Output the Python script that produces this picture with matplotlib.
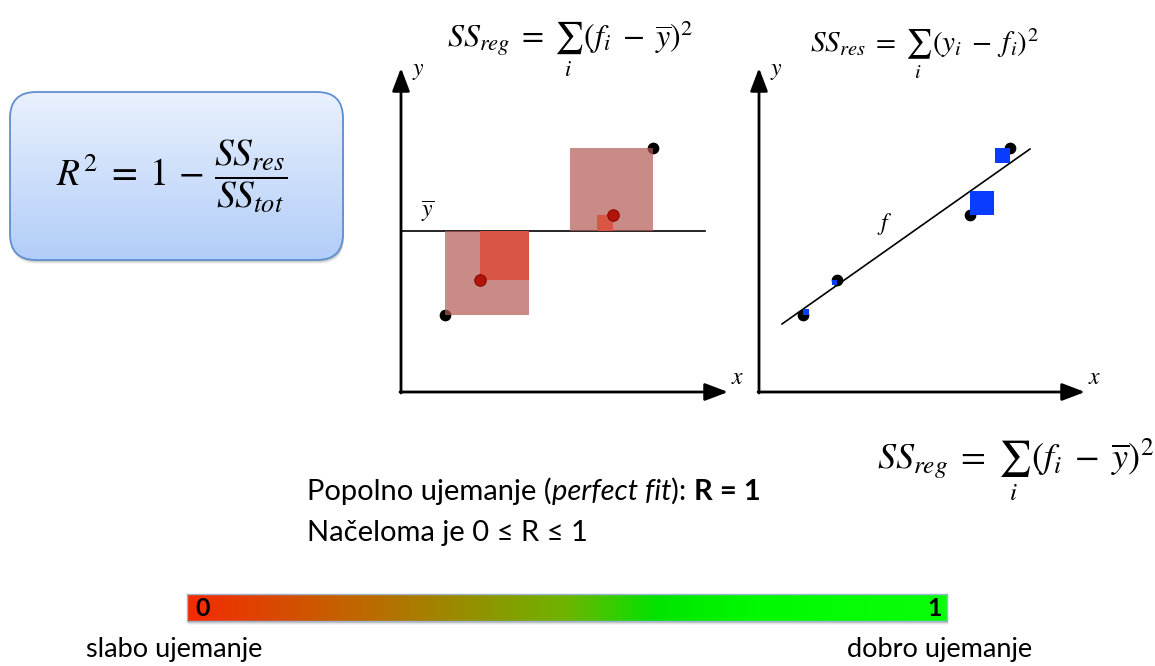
"""R^2 diagram: SS_reg / SS_res panels, formula box and colour scale."""

import numpy as np
import matplotlib

matplotlib.use("Agg")
import matplotlib.pyplot as plt
from matplotlib.colors import LinearSegmentedColormap
from matplotlib.patches import FancyBboxPatch, Rectangle
from matplotlib.offsetbox import TextArea, HPacker, AnnotationBbox

W, H = 1155, 666
plt.rcParams["mathtext.fontset"] = "stix"
SANS = ["Lato", "DejaVu Sans"]

# --- left panel (SS_reg): observed points, fitted points, mean ---
reg_x_obs = [4.4, 25.2]
reg_y_obs = [7.7, 24.4]
reg_x_fit = [7.9, 21.2]
reg_y_fit = [11.2, 17.7]
y_mean = 16.1

# --- right panel (SS_res): observed points, fitted values, fit line ---
res_x = [4.4, 7.8, 21.1, 25.1]
res_y = [7.7, 11.2, 17.7, 24.4]
res_f = [8.3, 10.7, 20.1, 22.9]
line_x = [2.3, 27.1]
line_y = [6.8, 24.3]

# --- colour scale 0..1 ---
bar_stops = [0.0, 0.25, 0.5, 0.62, 0.75, 1.0]
bar_colors = ["#f52a00", "#b96e00", "#6eb400", "#00e400", "#00fa00", "#0aff0a"]
bar_labels = ["slabo ujemanje", "dobro ujemanje"]

BOX_TOP = "#e9f1fd"
BOX_BOTTOM = "#b2cdf8"
BOX_EDGE = "#5f8fcf"
SQ_BIG = "#b35a52"
SQ_SMALL = "#da5344"
DOT_RED = "#b3140a"
SQ_BLUE = "#0a3cff"

SS_REG = r"$SS_{reg}\;=\;\sum_{i}\,(f_i\;-\;\overline{y})^2$"
SS_RES = r"$SS_{res}\;=\;\sum_{i}\,(y_i\;-\;f_i)^2$"
R2 = r"$R^{2}\;=\;1\,-\,\dfrac{SS_{res}}{SS_{tot}}$"

fig = plt.figure(figsize=(W / 100, H / 100), dpi=100)


def px_axes(x0, y0, x1, y1):
    # axes placed by pixel box (y measured from the top)
    return fig.add_axes([x0 / W, 1 - y1 / H, (x1 - x0) / W, (y1 - y0) / H])


# background layer in pixel coordinates for decoration and text
bg = fig.add_axes([0, 0, 1, 1])
bg.axis("off")

# formula box with soft shadow and vertical gradient
for k, a in enumerate([0.10, 0.07, 0.04]):
    bg.add_patch(FancyBboxPatch((11, 94 + k), 333, 168,
                                boxstyle="round,pad=0,rounding_size=26",
                                fc="black", ec="none", alpha=a))
box = FancyBboxPatch((10, 92), 333, 168, boxstyle="round,pad=0,rounding_size=26",
                     fc="none", ec=BOX_EDGE, lw=1.3, zorder=3)
bg.add_patch(box)
box_cmap = LinearSegmentedColormap.from_list("box", [BOX_TOP, BOX_BOTTOM])
img = bg.imshow(np.linspace(0, 1, 256).reshape(-1, 1), cmap=box_cmap,
                extent=(10, 343, 260, 92), aspect="auto", zorder=2)
img.set_clip_path(box)
bg.text(172, 176, R2, fontsize=27, ha="center", va="center", zorder=4)

# formulas
bg.text(570, 47, SS_REG, fontsize=23, ha="center", va="baseline")
bg.text(924, 52, SS_RES, fontsize=21, ha="center", va="baseline")
bg.text(1016, 468, SS_REG, fontsize=26, ha="center", va="baseline")


# text lines with mixed styles
def piece(s, **kw):
    return TextArea(s, textprops=dict(fontsize=21, family=SANS, **kw))


line1 = HPacker(children=[piece("Popolno ujemanje ("),
                          piece("perfect fit", style="italic"),
                          piece("): "),
                          piece("R = 1", weight="bold")],
                pad=0, sep=0, align="baseline")
bg.add_artist(AnnotationBbox(line1, (307, 491), box_alignment=(0, 0.5),
                             frameon=False, pad=0))
bg.text(307, 533, "Načeloma je 0 ≤ R ≤ 1", fontsize=21, family=SANS,
        ha="left", va="center")

# colour bar shadow and labels
for k, a in enumerate([0.12, 0.07, 0.04]):
    bg.add_patch(Rectangle((188, 596 + k), 760, 27, fc="black", ec="none", alpha=a))
bg.text(174, 650, bar_labels[0], fontsize=19.5, family=SANS, ha="center", va="center")
bg.text(940, 650, bar_labels[1], fontsize=19.5, family=SANS, ha="center", va="center")

bg.set_xlim(0, W)
bg.set_ylim(H, 0)

# gradient bar
ax_bar = px_axes(187, 594, 947, 621)
bar_cmap = LinearSegmentedColormap.from_list("fit", list(zip(bar_stops, bar_colors)))
ax_bar.imshow(np.linspace(0, 1, 512).reshape(1, -1), cmap=bar_cmap,
              aspect="auto", extent=(0, 1, 0, 1))
ax_bar.set_xticks([])
ax_bar.set_yticks([])
for sp in ax_bar.spines.values():
    sp.set_color("#9db3cf")
    sp.set_linewidth(1.0)
ax_bar.text(0.011, 0.47, "0", transform=ax_bar.transAxes, fontsize=18,
            weight="bold", family=SANS, ha="left", va="center")
ax_bar.text(0.993, 0.47, "1", transform=ax_bar.transAxes, fontsize=18,
            weight="bold", family=SANS, ha="right", va="center")

ARROW = dict(arrowstyle="-|>,head_length=1.0,head_width=0.38", color="black",
             lw=2, mutation_scale=14, shrinkA=0, shrinkB=0)


def draw_frame(ax, xmax, ymax):
    ax.set_xlim(0, xmax)
    ax.set_ylim(0, ymax)
    ax.axis("off")
    ax.annotate("", xy=(xmax, 0), xytext=(-0.1, 0), arrowprops=ARROW,
                annotation_clip=False)
    ax.annotate("", xy=(0, ymax), xytext=(0, -0.1), arrowprops=ARROW,
                annotation_clip=False)
    ax.text(1.1, ymax - 0.2, "$y$", fontsize=17, ha="left", va="center")
    ax.text(xmax + 0.3, 1.5, "$x$", fontsize=17, ha="left", va="center")


# left panel: SS_reg squares around the mean
ax_l = px_axes(401, 68, 728, 392)
draw_frame(ax_l, 32.7, 32.4)
ax_l.plot([0, 30.4], [y_mean, y_mean], color="black", lw=1.2, zorder=1)
ax_l.text(2.7, 18.1, r"$\overline{y}$", fontsize=17, ha="center", va="center")
ax_l.scatter(reg_x_obs, reg_y_obs, s=55, color="black", zorder=2)
for xo, yo in zip(reg_x_obs, reg_y_obs):
    d = abs(yo - y_mean)
    x0 = xo if yo < y_mean else xo - d
    ax_l.add_patch(Rectangle((x0, min(yo, y_mean)), d, d, fc=SQ_BIG,
                             ec="none", alpha=0.7, zorder=3))
for xf, yf in zip(reg_x_fit, reg_y_fit):
    d = abs(yf - y_mean)
    x0 = xf if yf < y_mean else xf - d
    ax_l.add_patch(Rectangle((x0, min(yf, y_mean)), d, d, fc=SQ_SMALL,
                             ec="none", alpha=0.95, zorder=4))
ax_l.scatter(reg_x_fit, reg_y_fit, s=70, color=DOT_RED, edgecolor="#7a0000",
             linewidth=0.6, zorder=5)

# right panel: SS_res squares around the fit line
ax_r = px_axes(759, 68, 1085, 392)
draw_frame(ax_r, 32.6, 32.4)
ax_r.plot(line_x, line_y, color="black", lw=1.2, zorder=1)
ax_r.text(12.6, 16.8, "$f$", fontsize=17, ha="center", va="center")
ax_r.scatter(res_x, res_y, s=55, color="black", zorder=2)
for xo, yo, fo in zip(res_x, res_y, res_f):
    r = yo - fo
    d = abs(r)
    x0 = xo if r < 0 else xo - d
    ax_r.add_patch(Rectangle((x0, min(yo, fo)), d, d, fc=SQ_BLUE,
                             ec="none", zorder=3))

fig.savefig("out.png", dpi=100)
